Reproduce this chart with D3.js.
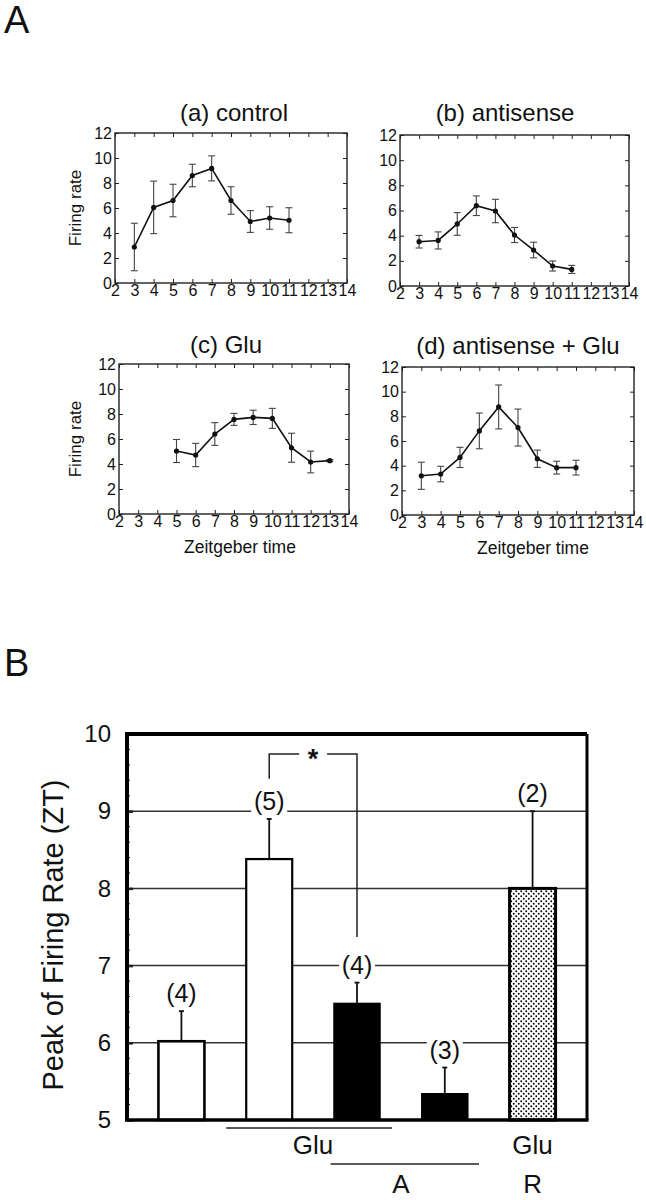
<!DOCTYPE html>
<html><head><meta charset="utf-8">
<script src="https://cdn.jsdelivr.net/npm/d3@7"></script>
<style>
body{margin:0;background:#fff}
svg{display:block}
text{font-family:Arial,"Liberation Sans",Helvetica,sans-serif;fill:#111}
</style>
</head><body>
<svg id="c" width="646" height="1200"></svg>
<script>
// ---------------- DATA ----------------
const panelTitles = ["(a) control", "(b) antisense", "(c) Glu", "(d) antisense + Glu"];
const xTicks = [2, 3, 4, 5, 6, 7, 8, 9, 10, 11, 12, 13, 14];
const yTicks = [0, 2, 4, 6, 8, 10, 12];

const ztA   = [3, 4, 5, 6, 7, 8, 9, 10, 11];
const rateA = [2.88, 6.05, 6.6, 8.6, 9.17, 6.6, 4.92, 5.2, 5.02];
const errA  = [1.9, 2.1, 1.3, 0.9, 1.0, 1.1, 0.87, 0.9, 1.0];

const ztB   = [3, 4, 5, 6, 7, 8, 9, 10, 11];
const rateB = [3.52, 3.62, 4.93, 6.38, 5.96, 4.05, 2.86, 1.59, 1.32];
const errB  = [0.5, 0.68, 0.9, 0.78, 0.93, 0.6, 0.62, 0.4, 0.32];

const ztC   = [5, 6, 7, 8, 9, 10, 11, 12, 13];
const rateC = [5.04, 4.72, 6.4, 7.57, 7.73, 7.65, 5.3, 4.16, 4.27];
const errC  = [0.92, 0.93, 0.91, 0.48, 0.57, 0.8, 1.16, 0.87, 0.08];

const ztD   = [3, 4, 5, 6, 7, 8, 9, 10, 11];
const rateD = [3.18, 3.32, 4.67, 6.82, 8.76, 7.09, 4.56, 3.84, 3.84];
const errD  = [1.1, 0.63, 0.82, 1.45, 1.78, 1.5, 0.7, 0.52, 0.6];

const barCats  = ["control", "Glu", "Glu + A", "A", "R + Glu"];
const barPeak  = [6.02, 8.38, 6.51, 5.34, 8.0];
const barSem   = [0.39, 0.52, 0.27, 0.34, 1.0];
const barN     = ["(4)", "(5)", "(4)", "(3)", "(2)"];
const barTicks = [5, 6, 7, 8, 9, 10];
const gridVals = [6, 7, 8, 9];
// significance bracket (ZT values): top, left-leg end, right-leg end
const sigBracket = [9.74, 9.42, 7.37];

// ---------------- LAYOUT ----------------
const svg = d3.select("#c");
const FONT = 'Arial,"Liberation Sans",Helvetica,sans-serif';

const boxes = [
  {x0:115, x1:347, y0:133, y1:283, tx:234,  ty:121, ylab:true,  xlab:false, lx:0},
  {x0:400, x1:629, y0:135, y1:286, tx:505,  ty:121, ylab:false, xlab:false, lx:0},
  {x0:119, x1:349, y0:364, y1:514, tx:226,  ty:353, ylab:true,  xlab:true,  lx:240},
  {x0:402, x1:634, y0:367, y1:515, tx:518,  ty:354, ylab:false, xlab:true,  lx:533}
];
const series = [[ztA, rateA, errA], [ztB, rateB, errB], [ztC, rateC, errC], [ztD, rateD, errD]];

svg.append("text").attr("x", 4).attr("y", 33).attr("font-size", 38).text("A");
svg.append("text").attr("x", 4).attr("y", 676).attr("font-size", 38).text("B");

function styleAxis(s, fs) {
  s.attr("font-family", FONT).attr("font-size", fs).attr("color", "#222");
  s.select(".domain").remove();
}

boxes.forEach((b, i) => {
  const [zt, rate, err] = series[i];
  const x = d3.scaleLinear().domain([2, 14]).range([b.x0, b.x1]);
  const y = d3.scaleLinear().domain([0, 12]).range([b.y1, b.y0]);
  const g = svg.append("g");

  g.append("g").attr("transform", `translate(0,${b.y1})`)
    .call(d3.axisBottom(x).tickValues(xTicks).tickSize(-4).tickPadding(2))
    .call(s => styleAxis(s, 16));
  g.append("g").attr("transform", `translate(0,${b.y0})`)
    .call(d3.axisTop(x).tickValues(xTicks).tickSize(-4).tickFormat(""))
    .call(s => styleAxis(s, 16));
  g.append("g").attr("transform", `translate(${b.x0},0)`)
    .call(d3.axisLeft(y).tickValues(yTicks).tickSize(-4).tickPadding(3))
    .call(s => styleAxis(s, 16));
  g.append("g").attr("transform", `translate(${b.x1},0)`)
    .call(d3.axisRight(y).tickValues(yTicks).tickSize(-4).tickFormat(""))
    .call(s => styleAxis(s, 16));

  g.append("rect").attr("x", b.x0).attr("y", b.y0)
    .attr("width", b.x1 - b.x0).attr("height", b.y1 - b.y0)
    .attr("fill", "none").attr("stroke", "#222").attr("stroke-width", 1.4);

  const pts = zt.map((z, k) => ({z, v: rate[k], e: err[k]}));

  // error bars
  const eb = g.append("g").attr("stroke", "#444").attr("stroke-width", 1.1);
  pts.forEach(p => {
    eb.append("line").attr("x1", x(p.z)).attr("x2", x(p.z)).attr("y1", y(p.v - p.e)).attr("y2", y(p.v + p.e));
    eb.append("line").attr("x1", x(p.z) - 3.5).attr("x2", x(p.z) + 3.5).attr("y1", y(p.v + p.e)).attr("y2", y(p.v + p.e));
    eb.append("line").attr("x1", x(p.z) - 3.5).attr("x2", x(p.z) + 3.5).attr("y1", y(p.v - p.e)).attr("y2", y(p.v - p.e));
  });

  g.append("path").datum(pts)
    .attr("d", d3.line().x(p => x(p.z)).y(p => y(p.v)))
    .attr("fill", "none").attr("stroke", "#111").attr("stroke-width", 1.6);
  g.selectAll("circle.pt").data(pts).join("circle")
    .attr("cx", p => x(p.z)).attr("cy", p => y(p.v)).attr("r", 2.6).attr("fill", "#111");

  g.append("text").attr("x", b.tx).attr("y", b.ty).attr("text-anchor", "middle")
    .attr("font-size", 24).text(panelTitles[i]);
  if (b.ylab) {
    g.append("text").attr("transform", `translate(81,${(b.y0 + b.y1) / 2}) rotate(-90)`)
      .attr("text-anchor", "middle").attr("font-size", 17).text("Firing rate");
  }
  if (b.xlab) {
    g.append("text").attr("x", b.lx).attr("y", b.y1 + 39).attr("text-anchor", "middle")
      .attr("font-size", 17.5).text("Zeitgeber time");
  }
});

// ---------------- PANEL B (bar chart) ----------------
const BX0 = 127, BX1 = 587, BY0 = 734, BY1 = 1120;
const yB = d3.scaleLinear().domain([5, 10]).range([BY1, BY0]);
const xB = d3.scalePoint().domain(barCats).range([BX0, BX1]).padding(0.62);
const barW = 46;

const defs = svg.append("defs");
const pat = defs.append("pattern").attr("id", "dots").attr("patternUnits", "userSpaceOnUse")
  .attr("width", 5).attr("height", 5);
pat.append("rect").attr("width", 5).attr("height", 5).attr("fill", "#fff");
pat.append("circle").attr("cx", 1.25).attr("cy", 1.25).attr("r", 0.95).attr("fill", "#000");
pat.append("circle").attr("cx", 3.75).attr("cy", 3.75).attr("r", 0.95).attr("fill", "#000");

const gB = svg.append("g");
// gridlines
gB.selectAll("line.grid").data(gridVals).join("line")
  .attr("x1", BX0).attr("x2", BX1).attr("y1", d => yB(d)).attr("y2", d => yB(d))
  .attr("stroke", "#333").attr("stroke-width", 1.5);

// minor ticks on left axis
const minor = d3.range(5, 10.001, 0.2);
gB.selectAll("line.minor").data(minor).join("line")
  .attr("x1", BX0).attr("x2", BX0 + 3).attr("y1", d => yB(d)).attr("y2", d => yB(d))
  .attr("stroke", "#222").attr("stroke-width", 1);

// y axis labels
gB.append("g").attr("transform", `translate(${BX0},0)`)
  .call(d3.axisLeft(yB).tickValues(barTicks).tickSize(-6).tickPadding(16).tickFormat(d3.format("d")))
  .call(s => { styleAxis(s, 24); s.selectAll("line").attr("stroke-width", 2.5); });

gB.append("text").attr("transform", `translate(63,${(BY0 + BY1) / 2 + 8}) rotate(-90)`)
  .attr("text-anchor", "middle").attr("font-size", 29).text("Peak of Firing Rate (ZT)");

const fills = ["#fff", "#fff", "#000", "#000", "url(#dots)"];
const strokeW = [2.6, 2.2, 1.5, 1.5, 3];
barCats.forEach((c, i) => {
  const cx = xB(c);
  const top = yB(barPeak[i]);
  // error bar
  const et = yB(barPeak[i] + barSem[i]);
  gB.append("line").attr("x1", cx).attr("x2", cx).attr("y1", top).attr("y2", et)
    .attr("stroke", "#111").attr("stroke-width", 1.8);
  gB.append("line").attr("x1", cx - 2.5).attr("x2", cx + 2.5).attr("y1", et).attr("y2", et)
    .attr("stroke", "#111").attr("stroke-width", 1.8);
  gB.append("rect").attr("x", cx - barW / 2).attr("y", top)
    .attr("width", barW).attr("height", BY1 - top)
    .attr("fill", fills[i]).attr("stroke", "#000").attr("stroke-width", strokeW[i]);
  // n label
  const by = et - 9;
  gB.append("rect").attr("x", cx - 18).attr("y", by - 20).attr("width", 36).attr("height", 25).attr("fill", "#fff");
  gB.append("text").attr("x", cx).attr("y", by).attr("text-anchor", "middle")
    .attr("font-size", 25).text(barN[i]);
});

// significance bracket
const xl = xB(barCats[1]), xr = xB(barCats[2]), xm = (xl + xr) / 2;
const yt = yB(sigBracket[0]);
const br = gB.append("g").attr("stroke", "#222").attr("stroke-width", 1.5).attr("fill", "none");
br.append("path").attr("d", `M${xl},${yB(sigBracket[1])}V${yt}H${xm - 14}`);
br.append("path").attr("d", `M${xm + 14},${yt}H${xr}V${yB(sigBracket[2])}`);
gB.append("text").attr("x", xm).attr("y", yt + 14).attr("text-anchor", "middle")
  .attr("font-size", 27).attr("font-weight", "bold").text("*");

// frame
gB.append("path").attr("d", `M${BX0},${BY1}V${BY0}H${BX1}`).attr("fill", "none")
  .attr("stroke", "#000").attr("stroke-width", 4);
gB.append("line").attr("x1", BX1).attr("x2", BX1).attr("y1", BY0).attr("y2", BY1)
  .attr("stroke", "#000").attr("stroke-width", 3);
gB.append("line").attr("x1", BX0 - 2).attr("x2", BX1 + 1.5).attr("y1", BY1).attr("y2", BY1)
  .attr("stroke", "#000").attr("stroke-width", 3.5);

// treatment annotations
const step = xB.step();
const ann = gB.append("g");
ann.append("line").attr("x1", xB(barCats[1]) - 0.49 * step).attr("x2", xB(barCats[2]) + 0.4 * step)
  .attr("y1", 1128).attr("y2", 1128).attr("stroke", "#222").attr("stroke-width", 1.6);
ann.append("line").attr("x1", xB(barCats[2]) - 0.3 * step).attr("x2", xB(barCats[3]) + 0.39 * step)
  .attr("y1", 1164).attr("y2", 1164).attr("stroke", "#222").attr("stroke-width", 1.6);
ann.append("text").attr("x", (xB(barCats[1]) + xB(barCats[2])) / 2).attr("y", 1154)
  .attr("text-anchor", "middle").attr("font-size", 26).text("Glu");
ann.append("text").attr("x", (xB(barCats[2]) + xB(barCats[3])) / 2).attr("y", 1193)
  .attr("text-anchor", "middle").attr("font-size", 26).text("A");
ann.append("text").attr("x", xB(barCats[4])).attr("y", 1154)
  .attr("text-anchor", "middle").attr("font-size", 26).text("Glu");
ann.append("text").attr("x", xB(barCats[4])).attr("y", 1193)
  .attr("text-anchor", "middle").attr("font-size", 26).text("R");
</script>
</body></html>
